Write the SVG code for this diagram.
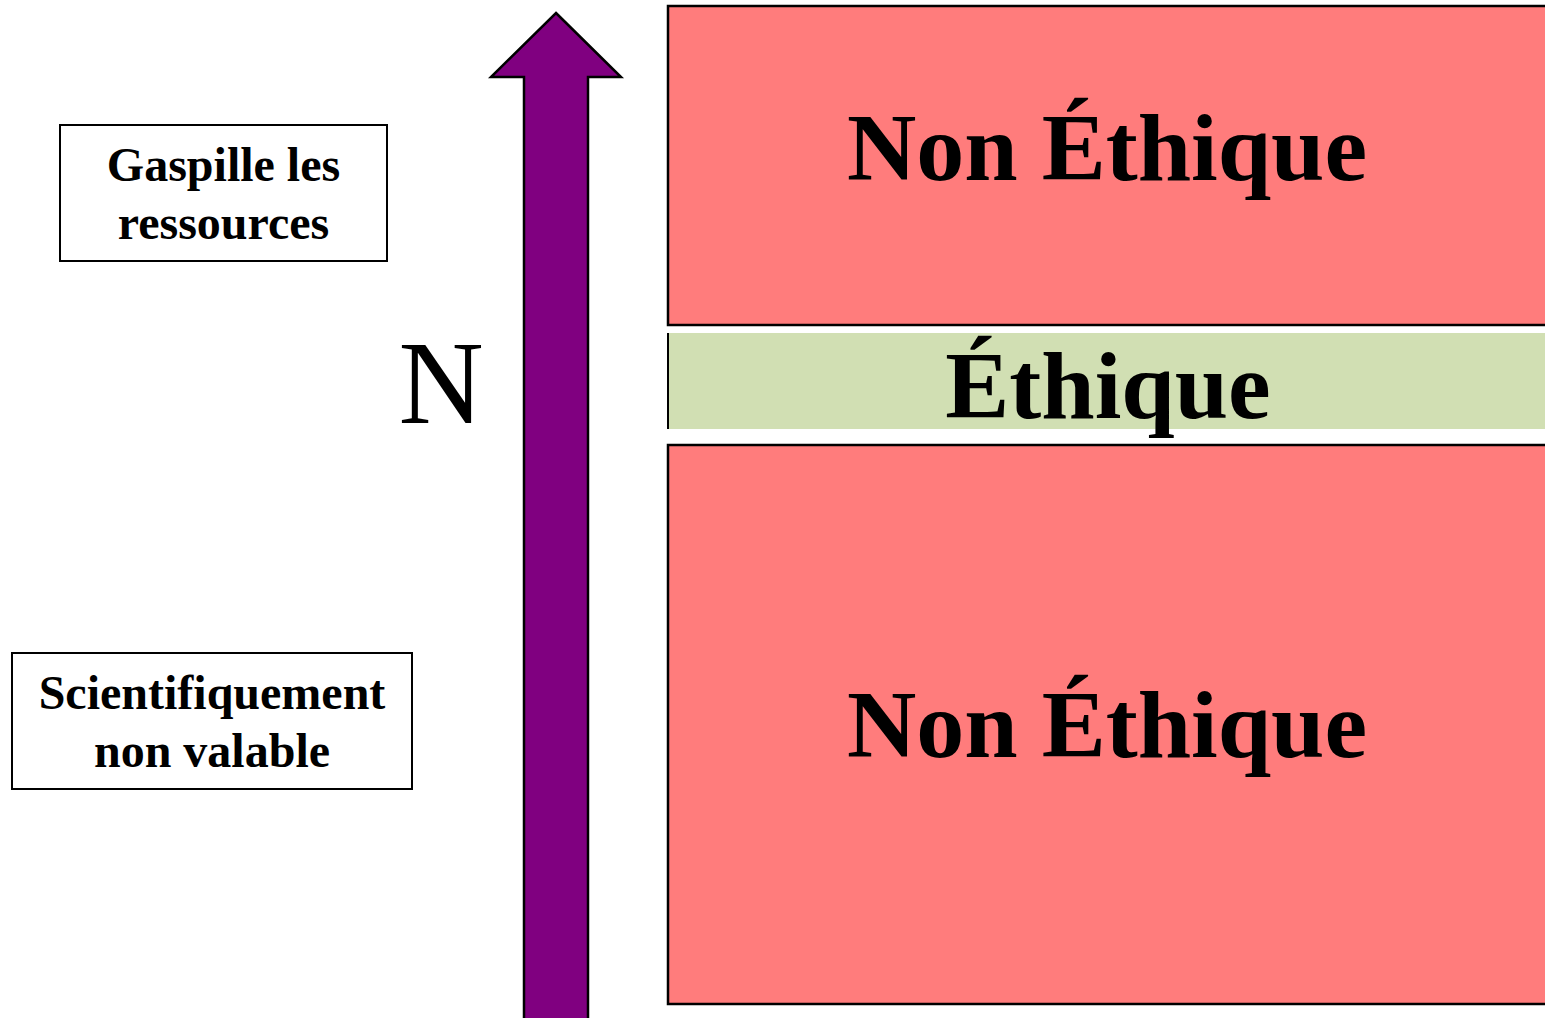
<svg xmlns="http://www.w3.org/2000/svg" width="1545" height="1018" viewBox="0 0 1545 1018">
<style>
.box{fill:#fff;stroke:#000;stroke-width:2}
.red{fill:#ff7c7c;stroke:#000;stroke-width:2.5}
.lbl{font-family:"Liberation Serif","Times New Roman",serif;font-weight:bold;font-size:48px;text-anchor:middle;fill:#000}
.big{font-family:"Liberation Serif","Times New Roman",serif;font-weight:bold;font-size:96px;text-anchor:middle;fill:#000}
</style>
<rect width="1545" height="1018" fill="#fff"/>
<g id="arrow">
<polygon points="556,13 621,77 588,77 588,1025 524,1025 524,77 491,77" fill="#800080" stroke="#000" stroke-width="2.5"/>
</g>
<g id="gaspille">
<rect class="box" x="60" y="125" width="327" height="136"/>
<text class="lbl" x="223.5" y="181">Gaspille les</text>
<text class="lbl" x="223.5" y="239">ressources</text>
</g>
<g id="scientifiquement">
<rect class="box" x="12" y="653" width="400" height="136"/>
<text class="lbl" x="212" y="709">Scientifiquement</text>
<text class="lbl" x="212" y="767">non valable</text>
</g>
<g id="n-label">
<text x="441" y="423" font-family="'Liberation Serif','Times New Roman',serif" font-size="118" text-anchor="middle" fill="#000">N</text>
</g>
<g id="non-ethique-top">
<rect class="red" x="668" y="6" width="890" height="319"/>
<text class="big" x="1107" y="180">Non Éthique</text>
</g>
<g id="ethique">
<rect x="668" y="333" width="890" height="96" fill="#d1dfb3"/>
<line x1="668" y1="333" x2="668" y2="429" stroke="#000" stroke-width="2"/>
<text class="big" x="1108" y="418">Éthique</text>
</g>
<g id="non-ethique-bottom">
<rect class="red" x="668" y="445" width="890" height="559"/>
<text class="big" x="1107" y="757">Non Éthique</text>
</g>
<g id="connectors"></g>
</svg>
